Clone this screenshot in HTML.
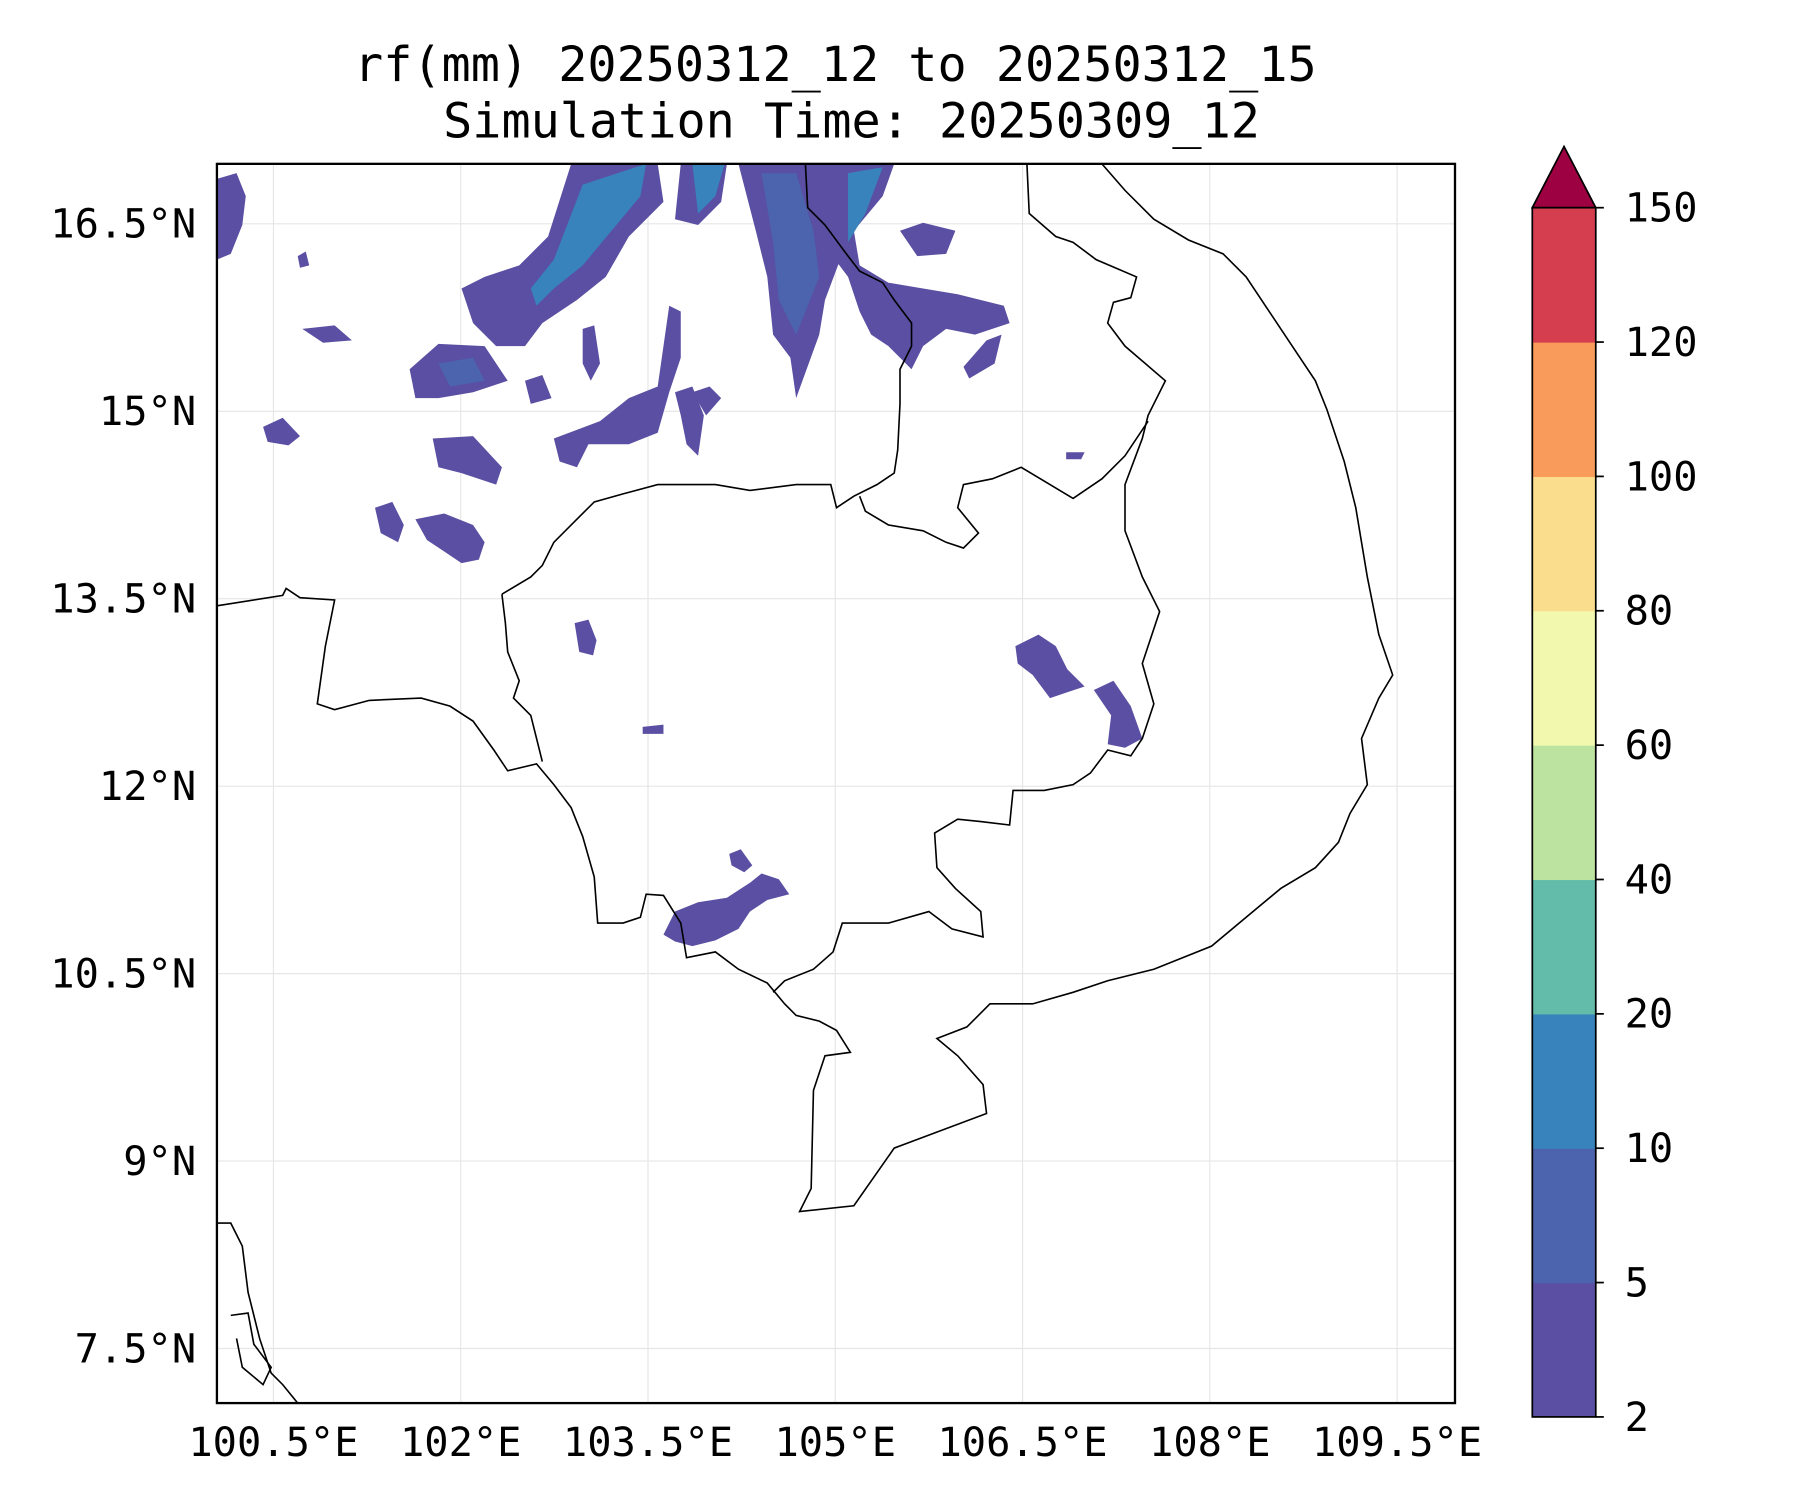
<!DOCTYPE html>
<html><head><meta charset="utf-8"><style>
html,body{margin:0;padding:0;background:#fff;width:1800px;height:1500px;overflow:hidden}
svg{display:block}
text{font-family:"DejaVu Sans Mono","Liberation Mono",monospace;fill:#000}
</style></head><body>
<svg id="chart" width="1800" height="1500" viewBox="0 0 1560 1300" xmlns="http://www.w3.org/2000/svg">
<text x="724" y="70" font-size="42" text-anchor="middle">rf(mm) 20250312_12 to 20250312_15</text>
<text x="738" y="119" font-size="42" text-anchor="middle">Simulation Time: 20250309_12</text>
<g id="grid"></g>
<g id="rain"></g>
<g id="coast" fill="none" stroke="#000" stroke-width="1.4"></g>
<rect x="188" y="142" width="1073" height="1074" fill="none" stroke="#000" stroke-width="2"/>
<g id="ticks"></g>
<g id="cbar"></g>
</svg>
<script>
const lonTicks=[100.5,102,103.5,105,106.5,108,109.5];
const latTicks=[16.5,15,13.5,12,10.5,9,7.5];
const cbLevels=[2,5,10,20,40,60,80,100,120,150];
const cbColors=["#5a4fa2","#4b64ad","#3883bb","#63bba9","#bde3a0","#f2f8ae","#fbde8d","#f99c5b","#d53e4f"];
const extendColor="#9e0142";
const ns="http://www.w3.org/2000/svg";
const X=lon=>237+(lon-100.5)*108.2;
const Y=lat=>194+(16.5-lat)*108.3;
function el(t,a,p){const e=document.createElementNS(ns,t);for(const k in a)e.setAttribute(k,a[k]);p.appendChild(e);return e;}
const grid=document.getElementById('grid'),ticks=document.getElementById('ticks');
lonTicks.forEach(v=>{const x=X(v);
 const g=el('line',{x1:x,x2:x,y1:142,y2:1216,stroke:'#e6e6e6','stroke-width':1},grid);
 
 const t=el('text',{x:x,y:1262,'font-size':35,'text-anchor':'middle'},ticks);t.textContent=v+'°E';
 });
latTicks.forEach(v=>{const y=Y(v);
 const g=el('line',{x1:188,x2:1261,y1:y,y2:y,stroke:'#e6e6e6','stroke-width':1},grid);
 
 const t=el('text',{x:170,y:y+12,'font-size':35,'text-anchor':'end'},ticks);t.textContent=v+'°N';
 });
const c1="#5a4fa2",c2="#4b64ad",c3="#3883bb";
const shapes=[
[c1,"188,155 205,150 213,170 210,195 200,220 188,225"],
[c1,"495,142 570,142 575,175 545,205 525,240 500,260 470,280 455,300 430,300 410,280 400,250 420,240 450,230 475,205"],
[c3,"505,160 560,142 555,170 530,200 505,230 480,250 465,265 460,250 480,225"],
[c1,"590,142 630,142 625,175 605,195 585,190"],
[c3,"600,142 628,142 620,170 605,185"],
[c1,"640,142 700,142 720,175 730,220 715,260 710,290 690,345 685,310 670,290 665,240 655,200"],
[c2,"660,150 690,150 705,200 710,240 690,290 675,260 670,210"],
[c1,"700,142 775,142 765,170 740,200 745,230 770,245 800,250 830,255 870,265 875,280 845,290 820,285 800,300 790,320 770,300 755,290 745,270 735,240 720,220"],
[c3,"735,150 765,145 750,185 735,210"],
[c1,"780,200 800,193 828,200 820,220 795,222"],
[c1,"855,295 868,290 862,315 840,328 835,318"],
[c1,"355,320 380,298 420,300 440,330 410,340 380,345 360,345"],
[c2,"380,315 410,310 420,330 390,335"],
[c1,"375,380 410,378 435,405 430,420 400,410 380,405"],
[c1,"480,380 520,365 545,345 570,335 575,300 580,265 590,270 590,310 580,340 570,375 545,385 510,385 500,405 485,400"],
[c1,"455,330 470,325 478,345 460,350"],
[c1,"585,340 600,335 610,360 605,395 595,385 590,360"],
[c1,"505,285 515,282 520,315 512,330 505,315"],
[c1,"600,340 615,335 625,345 612,360"],
[c1,"228,370 245,362 260,378 250,386 232,383"],
[c1,"262,285 290,282 305,295 280,297"],
[c1,"325,440 340,435 350,455 345,470 330,462"],
[c1,"360,450 385,445 410,455 420,470 415,485 400,488 385,478 370,468"],
[c1,"258,222 265,218 268,230 260,232"],
[c1,"498,540 510,537 517,555 514,568 502,565"],
[c1,"880,560 900,550 915,560 925,580 940,595 925,600 910,605 895,585 882,575"],
[c1,"948,598 965,590 980,612 990,640 975,648 960,645 963,620"],
[c1,"557,630 575,628 575,636 557,636"],
[c1,"575,810 585,790 605,782 630,778 650,765 660,757 675,762 684,775 665,780 650,790 640,805 620,815 600,820 585,816"],
[c1,"632,740 642,736 652,750 645,756 634,750"],
[c1,"924,392 940,392 937,398 924,398"]
];
const rain=document.getElementById('rain');
shapes.forEach(s=>{const p=el('polygon',{points:s[1],fill:s[0]},rain);
 });
const lines=[
"188,525 245,516 248,510 260,518 290,520 282,560 275,610 290,615 320,607 365,605 390,612 410,625 428,650 440,668 465,662 480,680 495,700 505,725 515,760 518,800 540,800 555,795 560,775 575,776 590,800 595,830 620,825 640,840 665,852 680,870 690,880 710,885 725,893 737,912 715,915 705,945 703,1030 693,1050 740,1045 775,995 855,965 852,940 830,915 812,900 838,890 858,870 895,870 930,860 960,850 1000,840 1050,820 1080,795 1110,770 1140,752 1160,730 1170,705 1185,680 1180,640 1195,605 1207,585 1195,550 1185,500 1175,440 1165,400 1150,355 1140,330 1120,300 1100,270 1080,240 1060,220 1030,208 1000,190 975,165 955,142",
"435,515 460,500 470,490 480,470 500,450 515,435 540,428 570,420 620,420 650,425 690,420 720,420 725,440 740,430 760,420 775,410 778,390 780,350 780,320 790,300 790,280 775,260 765,245 745,235 735,222 715,195 700,180 698,142",
"745,430 750,443 770,455 800,460 820,470 835,475 848,462 830,440 835,420 860,415 885,405 910,420 930,432 955,415 975,395 995,365",
"890,142 892,185 915,205 930,210 950,225 985,240 980,258 965,262 960,280 975,300 1010,330 995,360 990,380 975,420 975,460 990,500 1005,530 995,560 990,575 1000,610 990,640 980,655 960,650 945,670 930,680 905,685 878,685 875,715 850,712 830,710 810,722 812,752 828,770 850,790 852,812 825,805 805,790 770,800 750,800 730,800 722,825 705,840 680,850 670,860",
"435,515 438,540 440,565 450,590 445,605 460,620 465,640 470,660",
"188,1060 200,1060 210,1080 215,1120 225,1160 235,1190 245,1200 258,1216",
"200,1140 215,1138 220,1165 235,1185 228,1200 210,1185 205,1160"
];
const coast=document.getElementById('coast');
lines.forEach(d=>{const p=el('polyline',{points:d},coast);
 });
const cb=document.getElementById('cbar');
const cbX=1328,cbW=55,cbTop=180,cbBot=1228;
const CY=i=>cbBot-i*(cbBot-cbTop)/(cbLevels.length-1);
cbColors.forEach((c,i)=>{const r=el('rect',{x:cbX,y:CY(i+1),width:cbW,height:CY(i)-CY(i+1)+0.5,fill:c},cb);
 });
const tri=el('polygon',{points:`${cbX},${cbTop} ${cbX+cbW},${cbTop} ${cbX+cbW/2},127`,fill:extendColor,stroke:'#000','stroke-width':1.5},cb);

const fr=el('rect',{x:cbX,y:cbTop,width:cbW,height:cbBot-cbTop,fill:'none',stroke:'#000','stroke-width':1.5},cb);

cbLevels.forEach((v,i)=>{const y=CY(i);
 el('line',{x1:cbX+cbW,x2:cbX+cbW+7,y1:y,y2:y,stroke:'#000','stroke-width':1.5},cb);
 const t=el('text',{x:1408,y:y+12,'font-size':35},cb);t.textContent=v;
 });
</script>
</body></html>
